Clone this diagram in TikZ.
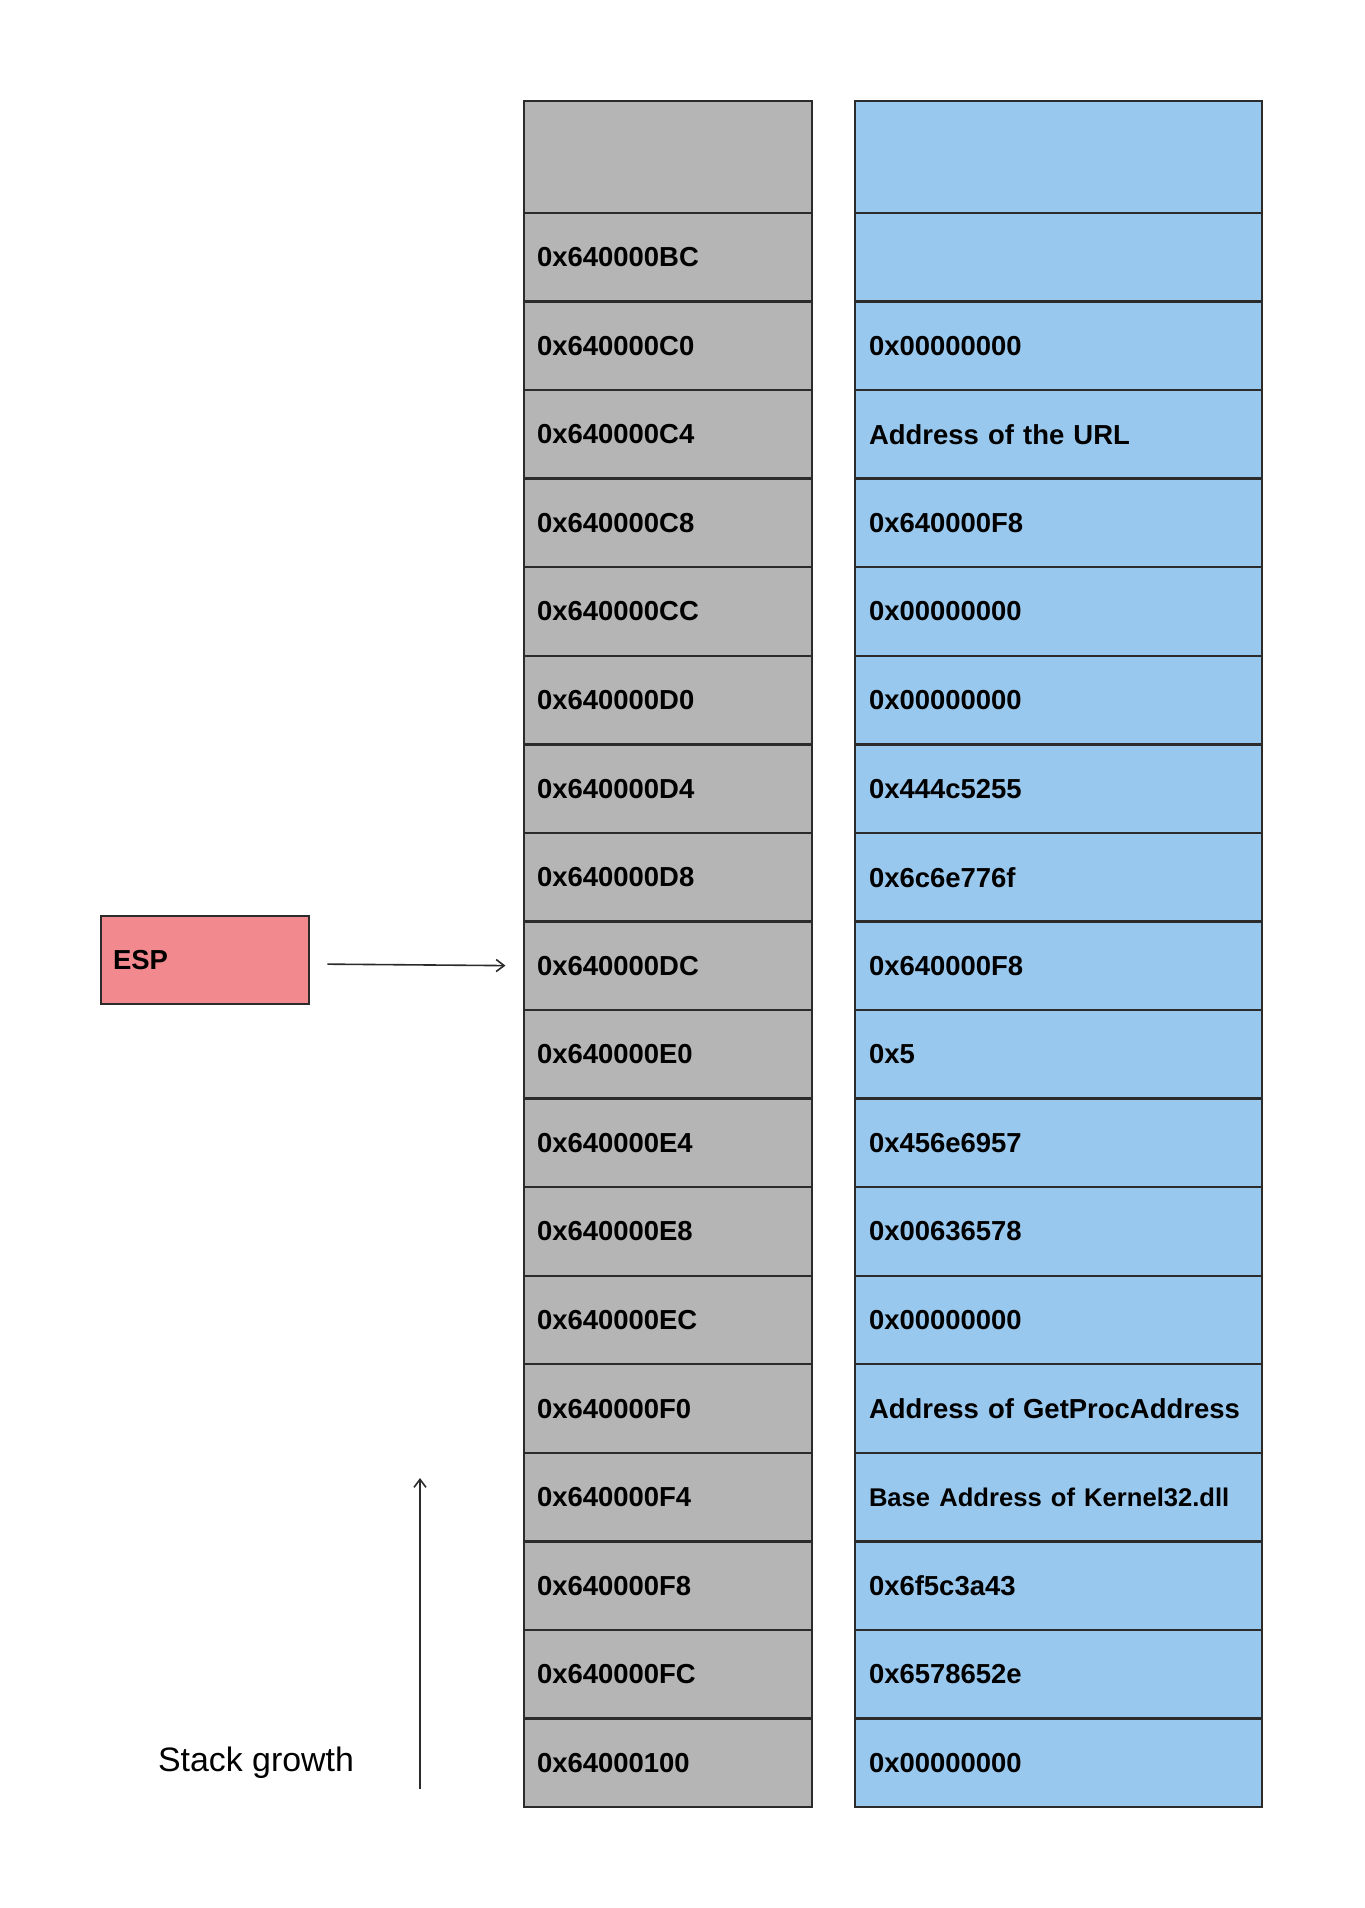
\documentclass[tikz,border=0pt]{standalone}
\usepackage{fontspec}
\setmainfont{Liberation Sans}
\usetikzlibrary{arrows.meta,positioning}
\definecolor{cellgrey}{HTML}{B5B5B5}
\definecolor{cellblue}{HTML}{99C8EE}
\definecolor{esppink}{HTML}{F1898F}
\definecolor{celledge}{HTML}{2B2B2B}
\newcommand{\kernfont}{\fontsize{19.2}{23}\selectfont}

\begin{document}
\begin{tikzpicture}[x=0.75pt, y=-0.75pt,
  addrcell/.style={draw=celledge, line width=1.8pt, fill=cellgrey, minimum height=66.42pt, inner xsep=9.75pt, text width=196.5pt, align=left, font=\fontsize{20.6}{25}\selectfont\bfseries},
  valcell/.style={draw=celledge, line width=1.8pt, fill=cellblue, minimum height=66.42pt, inner xsep=10.5pt, text width=284.25pt, align=left, font=\fontsize{20.6}{25}\selectfont\bfseries},
  espbox/.style={draw=celledge, line width=1.5pt, fill=esppink, minimum width=156pt, minimum height=66pt, inner xsep=9pt, text width=138pt, align=left, font=\fontsize{20.6}{25}\selectfont\bfseries},
  pointer/.style={line width=1.2pt, draw=celledge, -{Straight Barb[length=6pt, width=9pt]}}
]
\useasboundingbox (0,0) rectangle (1364,1908);

% Top blank cells
\node[addrcell, minimum height=84pt] (a0) at (668,157) {};
\node[valcell, minimum height=84pt] (v0) at (1058.5,157) {};

% Stack rows
\foreach \i/\addr/\val in {1/0x640000BC/{},2/0x640000C0/0x00000000,3/0x640000C4/Address of the URL,
  4/0x640000C8/0x640000F8,5/0x640000CC/0x00000000,6/0x640000D0/0x00000000,
  7/0x640000D4/0x444c5255,8/0x640000D8/0x6c6e776f,9/0x640000DC/0x640000F8,
  10/0x640000E0/0x5,11/0x640000E4/0x456e6957,12/0x640000E8/0x00636578,
  13/0x640000EC/0x00000000,14/0x640000F0/Address of GetProcAddress,
  15/0x640000F4/{\kernfont Base Address of Kernel32.dll},16/0x640000F8/0x6f5c3a43,
  17/0x640000FC/0x6578652e,18/0x64000100/0x00000000} {
  \node[addrcell] (a\i) at (668,{213+(\i-0.5)*88.56}) {\addr};
  \node[valcell] (v\i) at (1058.5,{213+(\i-0.5)*88.56}) {\val};
}

% ESP register
\node[espbox] (esp) at (205,960) {ESP};
\draw[pointer, shorten <=13pt, shorten >=13pt] ([yshift=-3pt]esp.east) -- (a9.west);

% Stack growth
\coordinate (growtail) at (420,1789);
\coordinate (growhead) at (420,1478);
\draw[pointer] (growtail) -- (growhead);
\node[font=\fontsize{25.4}{30}\selectfont] (growlabel) at (256,1763) {Stack growth};
\end{tikzpicture}
\end{document}
